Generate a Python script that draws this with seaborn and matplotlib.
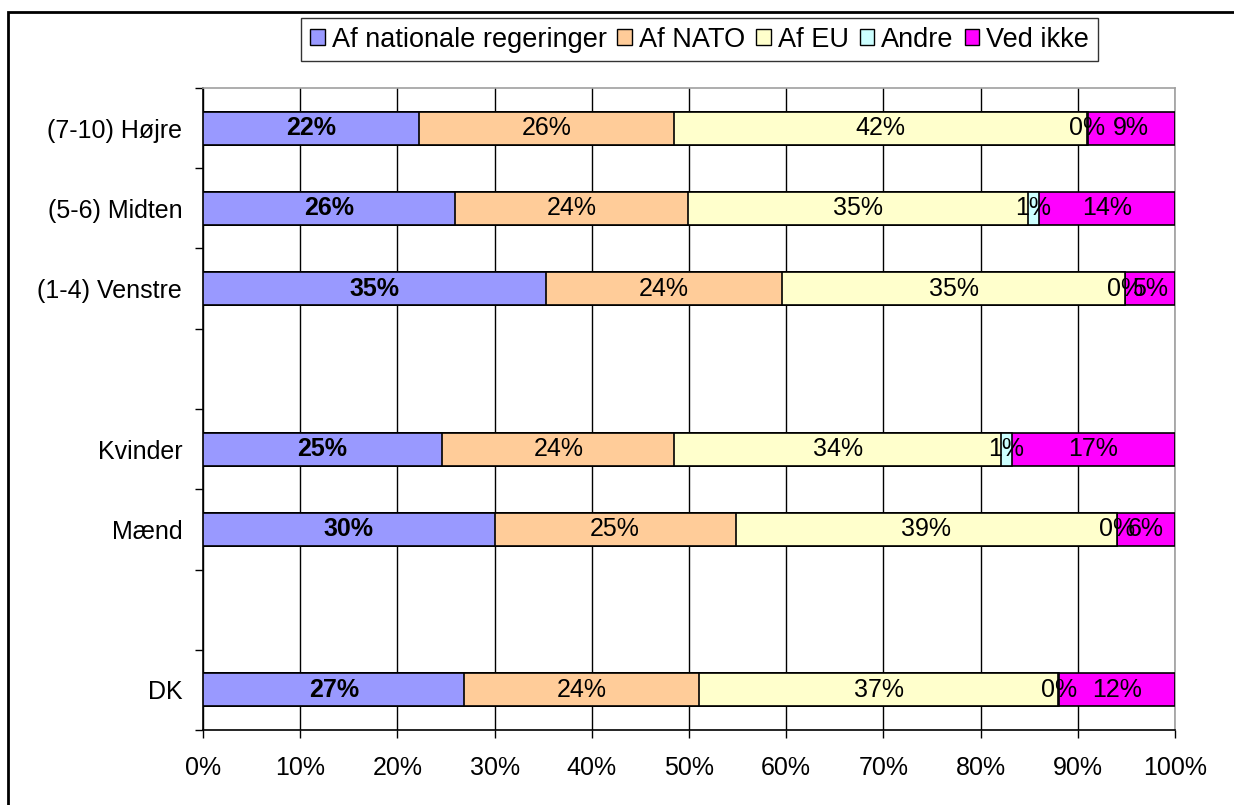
import matplotlib
matplotlib.use("Agg")
import matplotlib.pyplot as plt
from matplotlib.patches import Patch, Rectangle
from matplotlib.ticker import FixedLocator
import seaborn as sns
import pandas as pd
import numpy as np

# ---- data ----
categories = ["(7-10) Højre", "(5-6) Midten", "(1-4) Venstre", "Kvinder", "Mænd", "DK"]
slot_order = ["(7-10) Højre", "(5-6) Midten", "(1-4) Venstre", " ", "Kvinder", "Mænd", "  ", "DK"]
series_names = ["Af nationale regeringer", "Af NATO", "Af EU", "Andre", "Ved ikke"]
nationale = [22.2, 25.9, 35.3, 24.6, 30.0, 26.9]
nato = [26.3, 24.0, 24.3, 23.9, 24.8, 24.1]
eu = [42.4, 35.0, 35.3, 33.6, 39.2, 37.0]
andre = [0.1, 1.1, 0.0, 1.1, 0.0, 0.1]
ved_ikke = [9.0, 14.0, 5.1, 16.8, 6.0, 11.9]
x_ticks = [0, 10, 20, 30, 40, 50, 60, 70, 80, 90, 100]
x_ticklabels = ["0%", "10%", "20%", "30%", "40%", "50%", "60%", "70%", "80%", "90%", "100%"]

colors = ["#9999FF", "#FFCC99", "#FFFFCC", "#CCFFFF", "#FF00FF"]

sns.set_style("white")
plt.rcParams["font.family"] = ["Liberation Sans", "DejaVu Sans"]
plt.rcParams["text.color"] = "black"
plt.rcParams["xtick.color"] = "black"
plt.rcParams["ytick.color"] = "black"
plt.rcParams["axes.labelcolor"] = "black"

FS = 18

values = np.array([nationale, nato, eu, andre, ved_ikke])
cum = np.cumsum(values, axis=0)
df = pd.DataFrame({"cat": categories})
for i, name in enumerate(series_names):
    df[name] = cum[i]

fig = plt.figure(figsize=(12.34, 8.05), dpi=100)
ax = fig.add_axes([203 / 1234, 1 - 730 / 805, (1175 - 203) / 1234, (730 - 88) / 805])

# draw cumulative bars from the last series back to the first
for i in reversed(range(len(series_names))):
    sns.barplot(data=df, x=series_names[i], y="cat", order=slot_order,
                color=colors[i], saturation=1, edgecolor="black", linewidth=1.2,
                width=0.41, errorbar=None, ax=ax, zorder=3)

ax.set_xlim(0, 100)
ax.set_ylim(7.5, -0.5)
ax.set_xlabel("")
ax.set_ylabel("")

# segment labels
pos = {c: slot_order.index(c) for c in categories}
for i in range(len(series_names)):
    for j, c in enumerate(categories):
        start = cum[i][j] - values[i][j]
        center = start + values[i][j] / 2
        ax.text(center, pos[c], f"{values[i][j]:.0f}%", ha="center", va="center",
                fontsize=FS, fontweight="bold" if i == 0 else "normal",
                color="black", zorder=5)

# axes styling
ax.xaxis.set_major_locator(FixedLocator(x_ticks))
ax.set_xticklabels(x_ticklabels, fontsize=FS, color="black")
ax.grid(axis="x", color="black", linewidth=1, zorder=0)
ax.set_axisbelow(True)
ax.tick_params(axis="x", which="major", direction="out", length=6, width=1, pad=12.5, color="black", bottom=True)

ax.yaxis.set_major_locator(FixedLocator(list(range(len(slot_order)))))
ax.set_yticklabels(slot_order, fontsize=FS, color="black")
ax.yaxis.set_minor_locator(FixedLocator([k - 0.5 for k in range(len(slot_order) + 1)]))
ax.tick_params(axis="y", which="major", length=0, pad=15)
ax.tick_params(axis="y", which="minor", direction="out", length=6, width=1, color="black", left=True)

for side in ["left", "bottom"]:
    ax.spines[side].set_color("black")
    ax.spines[side].set_linewidth(1.2)
for side in ["top", "right"]:
    ax.spines[side].set_visible(True)
    ax.spines[side].set_color("#a0a0a0")
    ax.spines[side].set_linewidth(1.2)

# legend
handles = [Patch(facecolor=colors[i], edgecolor="black", linewidth=1, label=series_names[i])
           for i in range(len(series_names))]
leg = fig.legend(handles=handles, loc="upper center", bbox_to_anchor=(699.5 / 1234, 1 - 18 / 805),
                 ncol=5, frameon=True, fancybox=False, edgecolor="black", fontsize=19.5,
                 handlelength=0.55, handleheight=0.55, handletextpad=0.25, columnspacing=0.4,
                 borderpad=0.32, borderaxespad=0)
leg.get_frame().set_linewidth(1)
for t in leg.get_texts():
    t.set_color("black")

# outer chart frame
fig.patches.append(Rectangle((8 / 1234, -0.1), 1.2, 1 - 12 / 805 + 0.1, transform=fig.transFigure,
                             fill=False, edgecolor="black", linewidth=2))

fig.savefig("out.png", dpi=100, facecolor="white")
